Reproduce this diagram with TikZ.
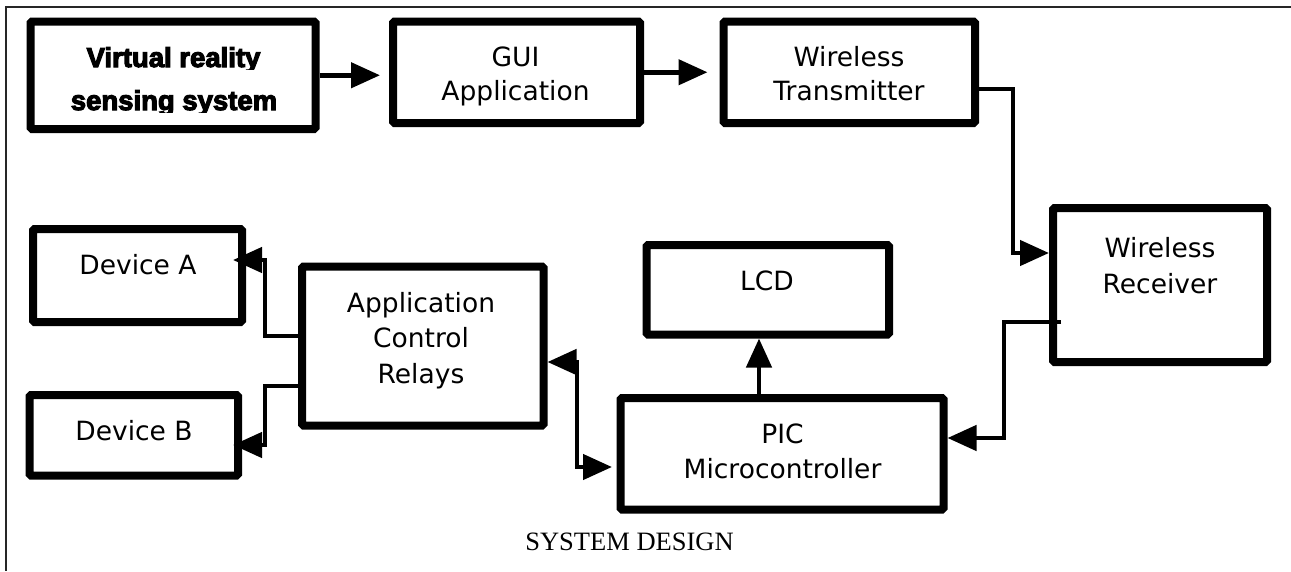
\documentclass[tikz,border=0pt]{standalone}
\usepackage{fontspec}
\setmainfont{DejaVu Sans}
\newfontfamily\capfont{Liberation Serif}
\newfontfamily\heavyfont[FakeBold=4]{Liberation Sans Bold}
\usetikzlibrary{arrows.meta}
\begin{document}
\begin{tikzpicture}[x=1pt,y=-1pt,
  box/.style={draw, line width=8pt, rounded corners=1.5pt, inner sep=0pt, outer sep=4pt},
  lbl/.style={anchor=base, inner sep=0pt, font=\fontsize{26.5}{30}\selectfont},
  heavy/.style={anchor=base, inner sep=0pt, font=\heavyfont\fontsize{27.5}{30}\selectfont},
  tipA/.tip={Triangle[length=29pt,width=25pt]},
  arr/.style={line width=4.5pt, -tipA},
  arrboth/.style={line width=4.5pt, tipA-tipA}]
\useasboundingbox (0,0) rectangle (1291,571);
% frame
\draw[line width=2pt, black!85] (1291,7) -- (6,7) -- (6,571);
% boxes
\node[box, minimum width=285pt, minimum height=107.5pt] (vr) at (173,75.25) {};
\node[box, minimum width=247pt, minimum height=101.5pt] (gui) at (516.5,72.25) {};
\node[box, minimum width=251.5pt, minimum height=101.5pt] (tx) at (849.25,72.25) {};
\node[box, minimum width=214pt, minimum height=154pt] (rx) at (1160,285) {};
\node[box, minimum width=242.5pt, minimum height=89.5pt] (lcd) at (767.75,289.75) {};
\node[box, minimum width=323pt, minimum height=111.5pt] (pic) at (782,453.75) {};
\node[box, minimum width=241.5pt, minimum height=159pt] (rel) at (422.75,346) {};
\node[box, minimum width=209pt, minimum height=93pt] (devA) at (137.5,275.5) {};
\node[box, minimum width=208.5pt, minimum height=80.5pt] (devB) at (133.75,435.25) {};
% texts
\begin{scope}
\clip (40,30) rectangle (310,69.5);
\node[heavy] (vr-t1) at (173.5,67) {Virtual reality};
\end{scope}
\begin{scope}
\clip (40,75) rectangle (310,112);
\node[heavy] (vr-t2) at (174,110) {sensing system};
\end{scope}
\node[lbl] (gui-t1) at (515.5,66) {GUI};
\node[lbl] (gui-t2) at (515.5,100) {Application};
\node[lbl] (tx-t1) at (849,66) {Wireless};
\node[lbl] (tx-t2) at (849,100) {Transmitter};
\node[lbl] (rx-t1) at (1160,257) {Wireless};
\node[lbl] (rx-t2) at (1160,293) {Receiver};
\node[lbl] (lcd-t) at (767,290) {LCD};
\node[lbl] (pic-t1) at (782.5,443) {PIC};
\node[lbl] (pic-t2) at (782.5,478) {Microcontroller};
\node[lbl] (rel-t1) at (421,312) {Application};
\node[lbl] (rel-t2) at (421,347) {Control};
\node[lbl] (rel-t3) at (421,383) {Relays};
\node[lbl] (devA-t) at (138,274) {Device A};
\node[lbl] (devB-t) at (134,440) {Device B};
\node[anchor=base, inner sep=0pt, font=\capfont\fontsize{26.5}{30}\selectfont] (cap) at (629.5,550) {SYSTEM DESIGN};
% connectors
\draw[arr, shorten >=9pt] (vr.east) -- (gui.west |- vr.east);
\draw[arr, shorten >=12pt] (gui.east) -- (tx.west |- gui.east);
\draw[arr] (tx.east |- 0,89) -| (1013,253) -- (rx.west |- 0,253);
\coordinate (rxout) at (1061,322);
\draw[arr] (rxout) -| (1004,438) -- (pic.east |- 0,438);
\draw[arr] (pic.north -| 759,0) -- (lcd.south -| 759,0);
\draw[arrboth, shorten >=4.5pt] (rel.east |- 0,362) -- (577,362) -- (577,467) -- (pic.west |- 0,467);
\draw[arr, shorten >=-13pt] (rel.west |- 0,336) -| (265,260) -- (devA.east |- 0,260);
\draw[arr, shorten >=-9pt] (rel.west |- 0,386) -| (265,445) -- (devB.east |- 0,445);
\end{tikzpicture}
\end{document}
